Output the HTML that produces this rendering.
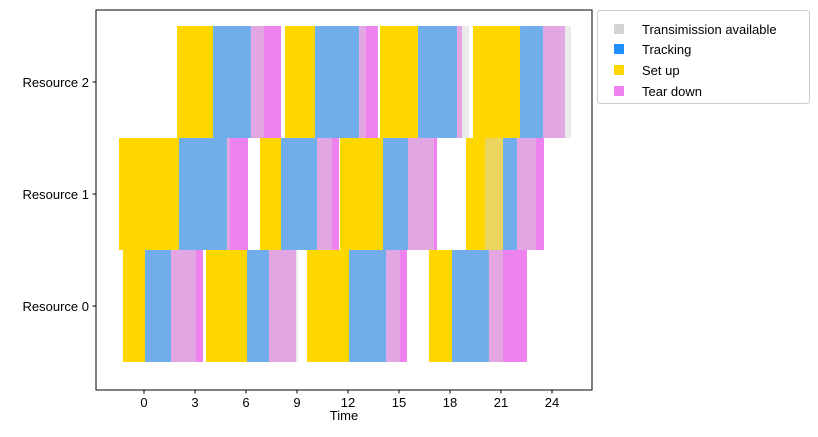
<!DOCTYPE html>
<html><head><meta charset="utf-8"><style>
body{margin:0;background:#fff;font-family:"Liberation Sans",sans-serif}
svg text{font-family:"Liberation Sans",sans-serif;font-size:13px;fill:#000}
</style></head><body>
<svg id="c" width="818" height="432" xmlns="http://www.w3.org/2000/svg">
<g id="bars"></g>
<rect x="96" y="10" width="496" height="380" fill="none" stroke="#000" stroke-width="1"/>
<g id="axes"></g>
<text x="344" y="420" text-anchor="middle">Time</text>
<g>
<rect x="597.5" y="10.5" width="212" height="93" rx="3" fill="#fff" stroke="#ccc"/>
<rect x="614" y="24" width="10" height="10" fill="#d3d3d3"/>
<text x="642" y="34">Transimission available</text>
<rect x="614" y="44" width="10" height="10" fill="#1e90ff"/>
<text x="642" y="54">Tracking</text>
<rect x="614" y="65" width="10" height="10" fill="#ffd700"/>
<text x="642" y="75">Set up</text>
<rect x="614" y="86" width="10" height="10" fill="#ee82ee"/>
<text x="642" y="96">Tear down</text>
</g>
</svg>
<script>
const resources = [2,2,2,2,1,1,1,1,0,0,0,0];
const setupStart = [1.94,8.29,13.88,19.35,-1.47,6.82,11.53,18.94,-1.24,3.65,9.59,16.76];
const trackStart = [4.06,10.06,16.12,22.12,2.06,8.06,14.06,21.12,0.06,6.06,12.06,18.12];
const teardownStart = [6.29,12.65,18.41,23.47,4.88,10.18,15.53,21.94,1.59,7.35,14.24,20.29];
const taskEnd = [8.06,13.76,18.71,24.76,6.12,11.47,17.24,23.53,3.47,8.94,15.47,22.53];
const windowStart = [4.06,10.06,16.12,22.12,2.06,8.06,14.06,20.06,0.06,6.06,12.06,18.12];
const windowLength = [3,3,3,3,3,3,3,3,3,3,3,3];
const xTicks = [0,3,6,9,12,15,18,21,24];
const yLabels = ["Resource 0","Resource 1","Resource 2"];

const NS="http://www.w3.org/2000/svg";
const xs = t => 144 + t*17;
const ys = r => 306 - r*112;
const bars=document.getElementById('bars'), axes=document.getElementById('axes');
function rect(g,x0,x1,r,fill,op,name){
  const e=document.createElementNS(NS,'rect');
  e.setAttribute('x',xs(x0));e.setAttribute('width',Math.max(0,xs(x1)-xs(x0)));
  e.setAttribute('y',ys(r)-56);e.setAttribute('height',112);
  e.setAttribute('fill',fill);if(op<1)e.setAttribute('fill-opacity',op);
  
  
  g.appendChild(e);
}
for(let i=0;i<resources.length;i++){
  const r=resources[i];
  rect(bars,setupStart[i],trackStart[i],r,'#ffd700',1,'setup-bar');
  rect(bars,trackStart[i],teardownStart[i],r,'#1e90ff',1,'tracking-bar');
  rect(bars,teardownStart[i],taskEnd[i],r,'#ee82ee',1,'teardown-bar');
  rect(bars,windowStart[i],windowStart[i]+windowLength[i],r,'#d3d3d3',0.45,'transmission-window');
}
xTicks.forEach(t=>{
  const l=document.createElementNS(NS,'line');
  l.setAttribute('x1',xs(t));l.setAttribute('x2',xs(t));l.setAttribute('y1',390);l.setAttribute('y2',393.5);l.setAttribute('stroke','#000');
  
  
  axes.appendChild(l);
  const tx=document.createElementNS(NS,'text');
  tx.setAttribute('x',xs(t));tx.setAttribute('y',407);tx.setAttribute('text-anchor','middle');tx.textContent=t;
  
  
  axes.appendChild(tx);
});
yLabels.forEach((s,r)=>{
  const l=document.createElementNS(NS,'line');
  l.setAttribute('x1',92.5);l.setAttribute('x2',96);l.setAttribute('y1',ys(r));l.setAttribute('y2',ys(r));l.setAttribute('stroke','#000');
  
  
  axes.appendChild(l);
  const tx=document.createElementNS(NS,'text');
  tx.setAttribute('x',89);tx.setAttribute('y',ys(r)+5);tx.setAttribute('text-anchor','end');tx.textContent=s;
  
  
  axes.appendChild(tx);
});
</script>
</body></html>
